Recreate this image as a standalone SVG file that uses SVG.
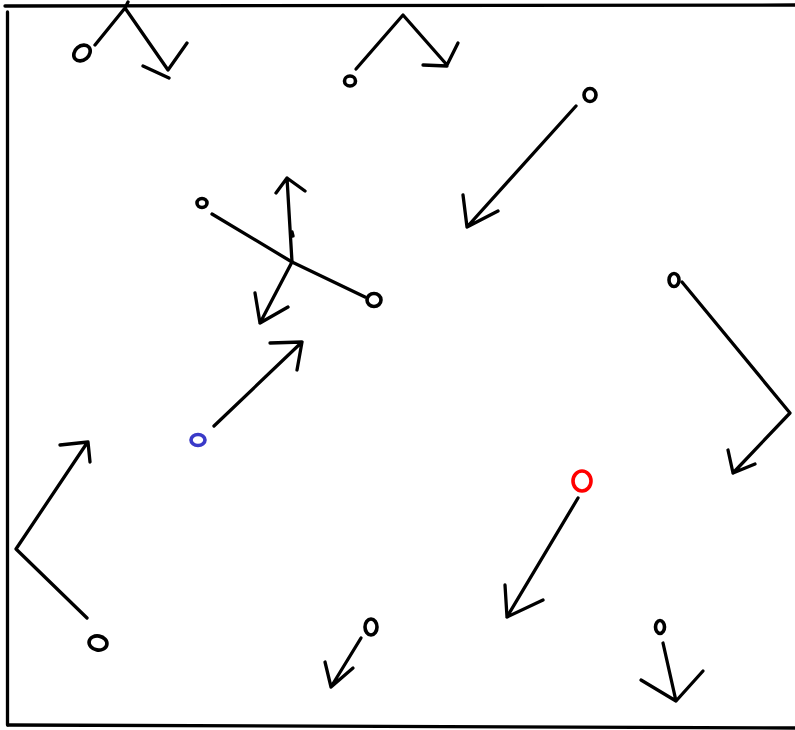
<svg xmlns="http://www.w3.org/2000/svg" width="795" height="730" viewBox="0 0 795 730">
<style>
.s{fill:none;stroke:#000;stroke-width:3.3;stroke-linecap:round;stroke-linejoin:round}
.n{fill:none;stroke:#000;stroke-width:3.6}
</style>
<rect width="795" height="730" fill="#fff"/>
<g id="frame" class="s">
<path d="M5 6 L795 5"/>
<path d="M7.5 12 L7.5 725"/>
<path d="M8 725 L795 728"/>
</g>
<g id="node1"><ellipse class="n" cx="82" cy="53" rx="9" ry="7" transform="rotate(-40 82 53)"/></g>
<g id="node2"><ellipse class="n" cx="350" cy="81" rx="5.5" ry="5"/></g>
<g id="node3"><ellipse class="n" cx="590" cy="95" rx="6" ry="6.5"/></g>
<g id="node4"><ellipse class="n" cx="202" cy="203" rx="5" ry="4.5"/></g>
<g id="node5"><ellipse class="n" cx="374" cy="300" rx="7" ry="6.5"/></g>
<g id="node6"><ellipse class="n" cx="198" cy="440" rx="7" ry="5.5" style="stroke:#3a3ac8"/></g>
<g id="node7"><ellipse class="n" cx="674" cy="280" rx="5" ry="6.5"/></g>
<g id="node8"><ellipse class="n" cx="98" cy="643" rx="7" ry="9" transform="rotate(-80 98 643)"/></g>
<g id="node9"><ellipse class="n" cx="582" cy="481" rx="9" ry="10" style="stroke:#ff0000"/></g>
<g id="node10"><ellipse class="n" cx="371" cy="627" rx="6" ry="8"/></g>
<g id="node11"><ellipse class="n" cx="660" cy="627" rx="4.5" ry="6.5"/></g>
<g id="connectors" class="s">
<path d="M95 45 L125 8 L128 2 M125 8 L168 70 M143 66 L169 78 M168 70 L187 43"/>
<path d="M356 69 L403 15 L447 65 M423 65 L447 66 M447 65 L458 43"/>
<path d="M576 106 L467 227 M463 195 L467 227 L498 211"/>
<path d="M212 214 L292 262 L365 297"/>
<path d="M292 262 L287 178 M276 193 L287 178 L305 191 M292 232 L293 236"/>
<path d="M292 262 L260 323 M255 293 L260 323 L288 307"/>
<path d="M214 426 L302 342 M270 343 L302 342 L297 370"/>
<path d="M682 282 L790 413 L733 473 M728 450 L733 473 L755 464"/>
<path d="M87 618 L16 549 L87 443 M60 445 L88 442 L90 462"/>
<path d="M578 498 L507 617 M505 585 L507 617 L543 600"/>
<path d="M361 638 L331 687 M325 662 L331 687 L353 668"/>
<path d="M663 643 L676 701 M641 680 L676 701 L703 671"/>
</g>
</svg>
